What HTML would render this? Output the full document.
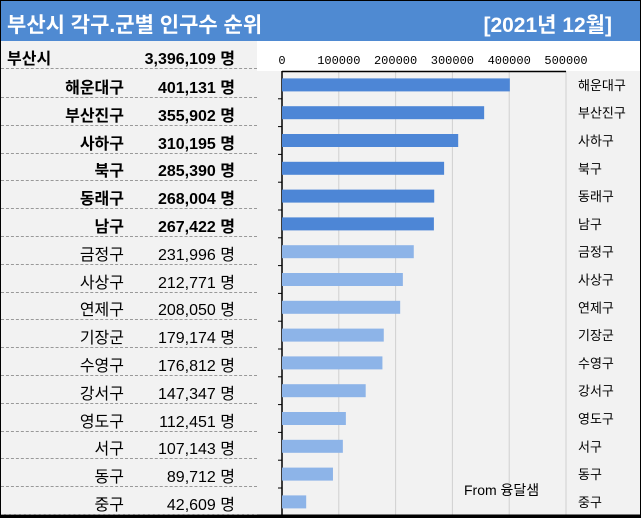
<!DOCTYPE html>
<html><head><meta charset="utf-8"><style>
body{margin:0;width:641px;height:518px;overflow:hidden;background:#fff;font-family:"Liberation Sans","Noto Sans CJK KR",sans-serif}
#wrap{position:relative;width:639px;height:516px;border:1px solid #000;overflow:hidden;background:#f2f2f2}
#hdr{position:absolute;left:0;top:0;width:639px;height:40px;background:#4f8ad2;color:#fff;font-weight:bold;font-size:21px}
#left{position:absolute;left:0;top:40px;width:256px;height:478px}
.row{position:absolute;left:0;width:256px;height:27px;border-bottom:1px dashed #999;font-size:16px}
.row span{position:absolute;top:4px}
</style></head><body><div id="wrap">
<svg id="svg" width="641" height="518" style="position:absolute;left:0;top:0"></svg>
<div id="hdr"><span style="position:absolute;left:6px;top:8px">부산시 각구.군별 인구수 순위</span><span style="position:absolute;right:28px;top:8px">[2021년 12월]</span></div>
<div id="left"></div>
</div>
<script>
const districts=["해운대구","부산진구","사하구","북구","동래구","남구","금정구","사상구","연제구","기장군","수영구","강서구","영도구","서구","동구","중구"];
const populations=[401131,355902,310195,285390,268004,267422,231996,212771,208050,179174,176812,147347,112451,107143,89712,42609];
const ticks=[0,100000,200000,300000,400000,500000];
const total=3396109;
const x0=281,x1=565,xmax=500000,rowTop=70,rowH=27.8;
const xs=v=>x0+(x1-x0)*v/xmax;
const ys=i=>rowTop+i*rowH+rowH/2;
const fmt=v=>v.toLocaleString('en-US');
const left=document.getElementById('left');
function addRow(top,name,val,bold,idx){
 const r=document.createElement('div');r.className='row';r.style.top=top+'px';
 
 
 if(bold)r.style.fontWeight='bold';
 const n=document.createElement('span');n.textContent=name;
 if(idx<0){n.style.left='6px';}else{n.style.right='133px';}
 const v=document.createElement('span');v.textContent=fmt(val)+' 명';v.style.right='22px';
 r.appendChild(n);r.appendChild(v);left.appendChild(r);
}
addRow(0,'부산시',total,true,-1);
districts.forEach((d,i)=>addRow(rowTop-40+i*rowH-1,d,populations[i],i<6,i));
const s=document.getElementById('svg');const NS='http://www.w3.org/2000/svg';
function el(t,a){const e=document.createElementNS(NS,t);for(const k in a)e.setAttribute(k,a[k]);s.appendChild(e);return e;}
el('rect',{x:256,y:40,width:385,height:30,fill:'#fff'});
ticks.forEach(t=>{
 const g=el('line',{x1:xs(t),x2:xs(t),y1:rowTop,y2:514,stroke:'#d0d0d0'});
 
 
 const tx=el('text',{x:xs(t),y:63,'font-size':12,'text-anchor':'middle',fill:'#000','font-family':'Liberation Mono, monospace'});
 tx.textContent=t;
 
 
});
el('line',{x1:x0,x2:x1,y1:rowTop+0.5,y2:rowTop+0.5,stroke:'#000','stroke-width':1.5});
el('line',{x1:x0,x2:x0,y1:rowTop,y2:516,stroke:'#000','stroke-width':1.5});
el('line',{x1:0,x2:641,y1:515,y2:515,stroke:'#000','stroke-width':3});
districts.forEach((d,i)=>{
 const b=el('rect',{x:x0,y:ys(i)-6.5,width:xs(populations[i])-x0,height:13,fill:i<6?'#4d86d6':'#8db4e8'});
 
 
 if(i>0)el('line',{x1:x0-4,x2:x0,y1:rowTop+i*rowH,y2:rowTop+i*rowH,stroke:'#000'});
 const t=el('text',{x:577,y:ys(i)+5,'font-size':13,fill:'#000'});t.textContent=d;
 
 
});
const c=el('text',{x:463,y:494,'font-size':14,fill:'#000'});c.textContent='From 융달샘';


</script></body></html>
